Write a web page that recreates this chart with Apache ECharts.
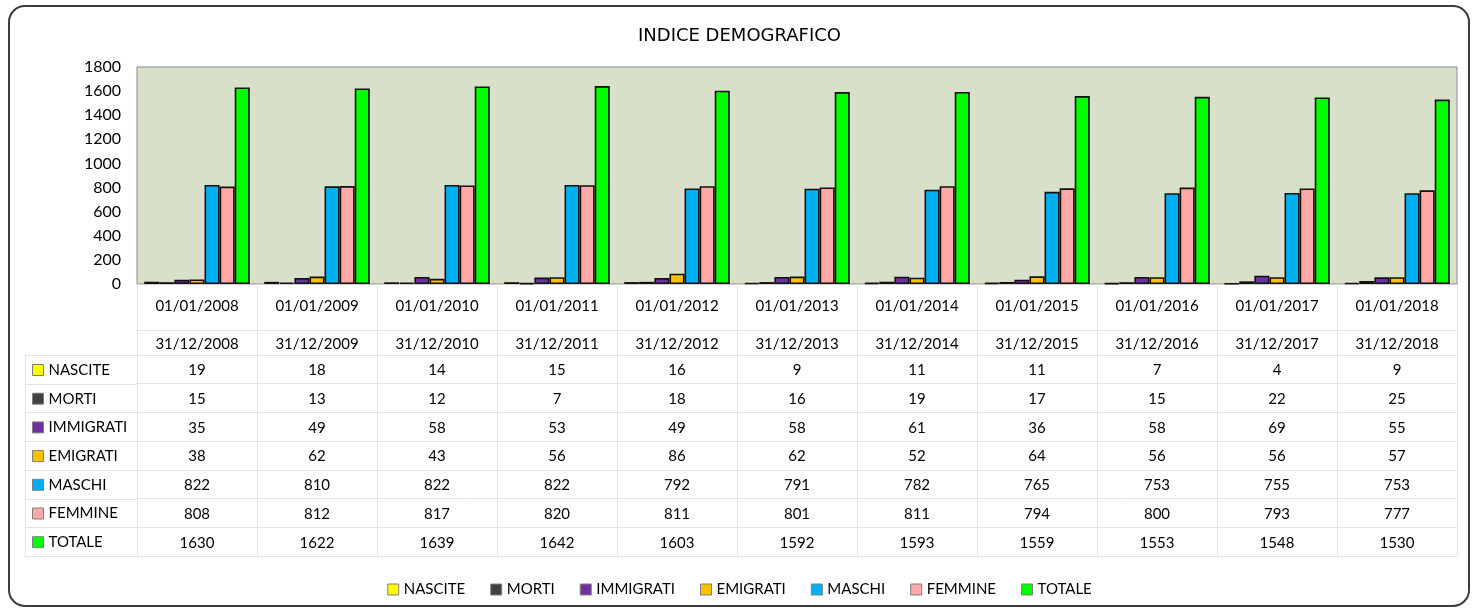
<!DOCTYPE html>
<html>
<head>
<meta charset="utf-8">
<script src="https://cdn.jsdelivr.net/npm/echarts@6/dist/echarts.min.js"></script>
<style>
html,body{margin:0;padding:0;background:#fff;}
#main{width:1479px;height:612px;}
</style>
</head>
<body>
<div id="main"></div>
<script>
var periodStart = ['01/01/2008','01/01/2009','01/01/2010','01/01/2011','01/01/2012','01/01/2013','01/01/2014','01/01/2015','01/01/2016','01/01/2017','01/01/2018'];
var periodEnd = ['31/12/2008','31/12/2009','31/12/2010','31/12/2011','31/12/2012','31/12/2013','31/12/2014','31/12/2015','31/12/2016','31/12/2017','31/12/2018'];
var nascite = [19,18,14,15,16,9,11,11,7,4,9];
var morti = [15,13,12,7,18,16,19,17,15,22,25];
var immigrati = [35,49,58,53,49,58,61,36,58,69,55];
var emigrati = [38,62,43,56,86,62,52,64,56,56,57];
var maschi = [822,810,822,822,792,791,782,765,753,755,753];
var femmine = [808,812,817,820,811,801,811,794,800,793,777];
var totale = [1630,1622,1639,1642,1603,1592,1593,1559,1553,1548,1530];
var serieNames = ['NASCITE','MORTI','IMMIGRATI','EMIGRATI','MASCHI','FEMMINE','TOTALE'];
var serieColors = ['#FFFF00','#404040','#7030A0','#FFC000','#00B0F0','#FFA8A8','#00FF00'];

var MyChart = function() {
	var font = 'Lato';
	var lineCol = '#e4e4e4';
	var gridBottomY = 284;
	var rowTop = 355, rowH = 28.7;
	var rows = [nascite, morti, immigrati, emigrati, maschi, femmine, totale];

	var buildAxes = function() {
		var axes = [];
		axes.push({
			type: 'category', data: periodStart, position: 'bottom',
			axisLine: {lineStyle: {color: '#d0d0d0'}},
			axisTick: {show: true, interval: 0, length: 46, lineStyle: {color: lineCol}},
			axisLabel: {interval: 0, margin: 15, fontFamily: font, fontSize: 15, color: '#000'}
		});
		axes.push({
			type: 'category', data: periodEnd, position: 'bottom', offset: 46,
			axisLine: {lineStyle: {color: lineCol}},
			axisTick: {show: true, interval: 0, length: 25, lineStyle: {color: lineCol}},
			axisLabel: {interval: 0, margin: 7, fontFamily: font, fontSize: 15, color: '#000'}
		});
		for (var i = 0; i < rows.length; i++) {
			axes.push({
				type: 'category', data: rows[i], position: 'bottom',
				offset: rowTop + rowH * i - gridBottomY,
				axisLine: {lineStyle: {color: lineCol}},
				axisTick: {show: true, interval: 0, length: rowH, lineStyle: {color: lineCol}},
				axisLabel: {interval: 0, margin: 8, fontFamily: font, fontSize: 15, color: '#000'}
			});
		}
		return axes;
	};

	var buildGraphic = function() {
		var g = [];
		g.push({
			type: 'rect', silent: true,
			shape: {x: 9, y: 6, width: 1460, height: 600, r: 16},
			style: {fill: 'none', stroke: '#3c3c3c', lineWidth: 2}
		});
		for (var i = 0; i <= rows.length; i++) {
			var y = Math.round(rowTop + rowH * i) + 0.5;
			g.push({type: 'line', silent: true,
				shape: {x1: 25, y1: y, x2: i == rows.length ? 1457 : 137, y2: y},
				style: {stroke: lineCol, lineWidth: 1}});
		}
		g.push({type: 'line', silent: true,
			shape: {x1: 25.5, y1: rowTop, x2: 25.5, y2: rowTop + rowH * rows.length},
			style: {stroke: lineCol, lineWidth: 1}});
		return g;
	};

	var buildSeries = function() {
		var s = [];
		for (var i = 0; i < rows.length; i++) {
			s.push({
				name: serieNames[i], type: 'bar', xAxisIndex: 0, data: rows[i],
				barGap: '0%', barCategoryGap: '12%',
				itemStyle: {color: serieColors[i], borderColor: '#111', borderWidth: 1.6}
			});
		}
		return s;
	};

	return {
		init: function() {
			var chart = echarts.init(document.getElementById('main'));
			var option = {
				animation: false,
				color: serieColors,
				title: {
					text: 'INDICE DEMOGRAFICO', left: 'center', top: 22,
					textStyle: {fontFamily: 'DejaVu Sans', fontSize: 18, fontWeight: 'normal', color: '#000'}
				},
				legend: [{
					data: serieNames, selectedMode: false, bottom: 10, left: 'center',
					itemWidth: 11, itemHeight: 11, itemGap: 25, icon: 'rect',
					itemStyle: {borderColor: '#7f7f7f', borderWidth: 1},
					textStyle: {fontFamily: font, fontSize: 15, color: '#000'}
				}, {
					data: serieNames, selectedMode: false, orient: 'vertical', left: 27, top: 357,
					itemWidth: 11, itemHeight: 11, itemGap: 12.7, icon: 'rect',
					itemStyle: {borderColor: '#7f7f7f', borderWidth: 1},
					textStyle: {fontFamily: font, fontSize: 15, color: '#000', lineHeight: 16}
				}],
				grid: {
					left: 137, right: 22, top: 67, bottom: 612 - gridBottomY,
					show: true, backgroundColor: '#D9E0CA', borderColor: '#8c8c8c', borderWidth: 1
				},
				xAxis: buildAxes(),
				yAxis: {
					type: 'value', min: 0, max: 1800, interval: 200,
					axisLine: {show: false}, axisTick: {show: false},
					splitLine: {show: false},
					axisLabel: {fontFamily: font, fontSize: 16, color: '#000', margin: 16,
						formatter: function(v) { return String(v); }}
				},
				series: buildSeries(),
				graphic: buildGraphic()
			};
			chart.setOption(option);
		}
	};
}();
MyChart.init();
</script>
</body>
</html>
